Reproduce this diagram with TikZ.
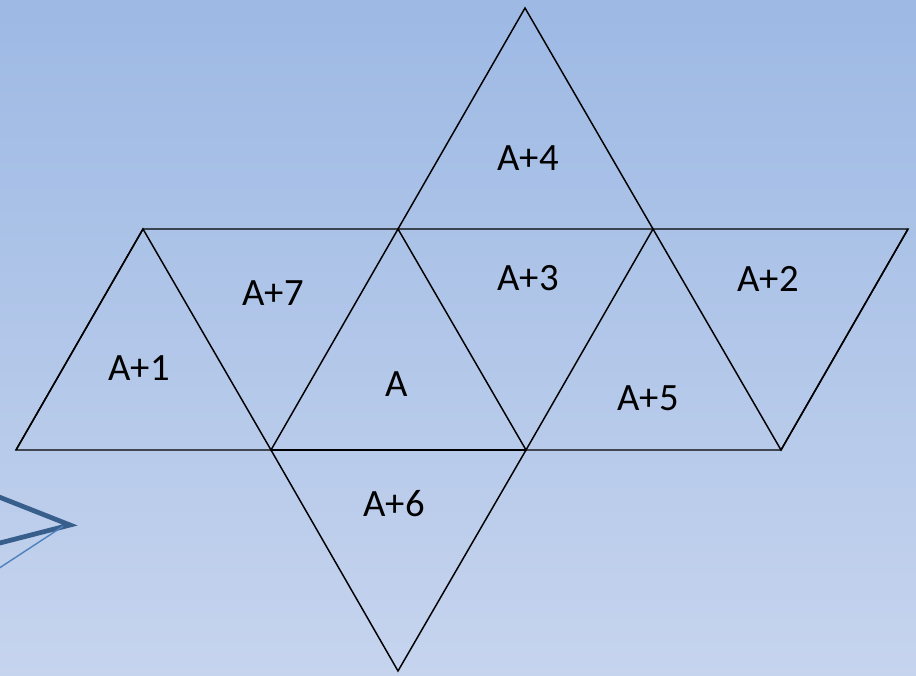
\documentclass[tikz,border=0pt]{standalone}
\usepackage{fontspec}
\setmainfont{Carlito}
\usetikzlibrary{calc}
\definecolor{bgTop}{RGB}{157,185,228}
\definecolor{bgBot}{RGB}{198,212,238}
\definecolor{decoD}{RGB}{56,94,140}
\definecolor{decoL}{RGB}{79,129,189}

\begin{document}
\begin{tikzpicture}[line join=miter,
  edge/.style={line width=1.05pt,black},
  face/.style={font=\fontsize{27.5}{32}\selectfont,inner sep=0pt}]
% ---------- background ----------
\shade[top color=bgTop,bottom color=bgBot] (0,0) rectangle (22.9,16.875);
\useasboundingbox (0,0) rectangle (22.9,16.875);
% ---------- decoration at the left ----------
\draw[decoD,line width=3.4pt] (-0.2,4.52)--(1.75,3.75)--(-0.2,3.25);
\draw[decoL,line width=1pt] (1.58,3.72)--(-0.1,2.62);
% ---------- lattice points ----------
\foreach \i in {0,...,3}{
  \coordinate (b\i) at ({0.4+6.375*\i},5.625);
  \coordinate (t\i) at ({3.575+6.375*\i},11.15);
}
\coordinate (peak) at (13.125,16.675);
\coordinate (tip) at (9.95,0.1);
% ---------- the net ----------
\draw[edge] (b0)--(b3)--(t3)--(t0)--cycle;
\draw[edge] (b0)--(t0)--(b1)--(t1)--(b2)--(t2)--(b3)--(t3);
\draw[edge] (t1)--(peak)--(t2);
\draw[edge] (b1)--(tip)--(b2);
\draw[line width=1.8pt] (b1)--(b2);
% ---------- labels ----------
\node[face] (f1) at (3.475,7.675) {A+1};
\node[face] (f7) at (6.825,9.55) {A+7};
\node[face] (f0) at (9.925,7.275) {A};
\node[face] (f3) at (13.2,9.925) {A+3};
\node[face] (f4) at (13.2,12.925) {A+4};
\node[face] (f5) at (16.2,6.925) {A+5};
\node[face] (f2) at (19.2,9.9) {A+2};
\node[face] (f6) at (9.85,4.275) {A+6};
\end{tikzpicture}
\end{document}
